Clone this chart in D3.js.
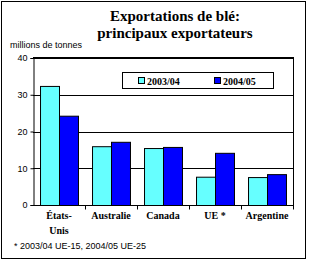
<!DOCTYPE html>
<meta charset="utf-8">
<style>
  body { margin: 0; background: #fff; }
  svg text { fill: #000; }
</style>
<body>
<script src="https://cdn.jsdelivr.net/npm/d3@7"></script>
<script>
  var categories = ["États-Unis", "Australie", "Canada", "UE *", "Argentine"]
  var series = ["2003/04", "2004/05"]
  var values0304 = [32.4, 16.0, 15.5, 7.7, 7.6]
  var values0405 = [24.3, 17.2, 15.8, 14.2, 8.4]
  var yTicks = [0, 10, 20, 30, 40]
  var colors = ["#66ffff", "#0000ff"]

  var SERIF = "'Liberation Serif', 'Times New Roman', serif"
  var SANS = "'Liberation Sans', Arial, sans-serif"

  var width = 309, height = 265
  var plot = { left: 33, right: 293, top: 58, bottom: 205 }

  var svg = d3.select("body").append("svg")
    .attr("width", width)
    .attr("height", height)

  // outer frame
  svg.append("rect")
    .attr("x", 1.5).attr("y", 1.5)
    .attr("width", 304).attr("height", 257)
    .attr("fill", "none").attr("stroke", "#000").attr("stroke-width", 1)

  // title
  var title = svg.append("text")
    .attr("font-family", SERIF).attr("font-weight", "bold")
    .attr("text-anchor", "middle")
    .attr("font-size", 15)
  title.append("tspan").attr("x", 175).attr("y", 21).text("Exportations de blé:")
  title.append("tspan").attr("x", 175).attr("y", 38).text("principaux exportateurs")

  svg.append("text")
    .attr("font-family", SANS)
    .attr("x", 10).attr("y", 48)
    .attr("font-size", 9)
    .text("millions de tonnes")

  var y = d3.scaleLinear().domain([0, 40]).range([plot.bottom, plot.top])
  var x0 = d3.scaleBand().domain(categories).range([plot.left, plot.right]).paddingInner(0.27).paddingOuter(0.135)
  var x1 = d3.scaleBand().domain(series).range([0, x0.bandwidth()])

  // gridlines
  svg.append("g").selectAll("line")
    .data(yTicks.slice(1, 4))
    .enter().append("line")
    .attr("x1", plot.left).attr("x2", plot.right)
    .attr("y1", function (d) { return Math.round(y(d)) + 0.5 })
    .attr("y2", function (d) { return Math.round(y(d)) + 0.5 })
    .attr("stroke", "#000")

  // plot frame top + right
  svg.append("line")
    .attr("x1", plot.left).attr("x2", plot.right + 1)
    .attr("y1", plot.top).attr("y2", plot.top)
    .attr("stroke", "#000").attr("stroke-width", 2)
  svg.append("line")
    .attr("x1", plot.right + 0.5).attr("x2", plot.right + 0.5)
    .attr("y1", plot.top).attr("y2", plot.bottom)
    .attr("stroke", "#000")

  // bars
  var rows = categories.map(function (c, i) {
    return { cat: c, vals: [values0304[i], values0405[i]] }
  })
  svg.append("g").selectAll("g")
    .data(rows)
    .enter().append("g")
    .attr("transform", function (d) { return "translate(" + x0(d.cat) + ",0)" })
    .selectAll("rect")
    .data(function (d) { return d.vals.map(function (v, j) { return { s: series[j], v: v, c: colors[j] } }) })
    .enter().append("rect")
    .attr("x", function (d) { return x1(d.s) + 0.5 })
    .attr("y", function (d) { return y(d.v) + 0.5 })
    .attr("width", x1.bandwidth())
    .attr("height", function (d) { return plot.bottom - y(d.v) })
    .attr("fill", function (d) { return d.c })
    .attr("stroke", "#000")

  // y axis
  var yAxis = svg.append("g")
    .attr("transform", "translate(" + (plot.left + 0.5) + ",0)")
    .call(d3.axisLeft(y).tickValues(yTicks).tickSize(3).tickPadding(3))
  yAxis.selectAll("text").attr("font-size", 9).attr("font-family", SANS)
  yAxis.select(".domain").attr("stroke", "#000")

  // x axis with ticks between groups
  var xAxis = svg.append("g")
    .attr("transform", "translate(0," + (plot.bottom + 0.5) + ")")
  xAxis.append("line")
    .attr("x1", plot.left).attr("x2", plot.right + 1)
    .attr("stroke", "#000")
  xAxis.selectAll("line.tick")
    .data(d3.range(1, categories.length + 1))
    .enter().append("line")
    .attr("class", "tick")
    .attr("x1", function (i) { return Math.round(plot.left + i * (plot.right - plot.left) / categories.length) + 0.5 })
    .attr("x2", function (i) { return Math.round(plot.left + i * (plot.right - plot.left) / categories.length) + 0.5 })
    .attr("y1", 0).attr("y2", 4)
    .attr("stroke", "#000")

  var labelLines = [["États-", "Unis"], ["Australie"], ["Canada"], ["UE *"], ["Argentine"]]
  xAxis.selectAll("text")
    .data(categories)
    .enter().append("text")
    .attr("font-family", SERIF).attr("font-weight", "bold")
    .attr("font-size", 10)
    .attr("text-anchor", "middle")
    .each(function (d, i) {
      var cx = x0(d) + x0.bandwidth() / 2
      labelLines[i].forEach(function (t, k) {
        d3.select(this).append("tspan").attr("x", cx).attr("y", 13 + k * 15).text(t)
      }, this)
    })

  // legend
  var lg = svg.append("g")
  lg.append("rect")
    .attr("x", 122.5).attr("y", 72.5)
    .attr("width", 151).attr("height", 16)
    .attr("fill", "#fff").attr("stroke", "#000")
  var legendX = [138, 214]
  series.forEach(function (s, i) {
    lg.append("rect")
      .attr("x", legendX[i] + 0.5).attr("y", 77.5)
      .attr("width", 6).attr("height", 6)
      .attr("fill", colors[i]).attr("stroke", "#000")
    lg.append("text")
      .attr("font-family", SERIF).attr("font-weight", "bold")
      .attr("font-size", 10)
      .attr("x", legendX[i] + 9).attr("y", 84.5)
      .text(s)
  })

  svg.append("text")
    .attr("font-family", SANS)
    .attr("x", 14).attr("y", 249)
    .attr("font-size", 9)
    .text("* 2003/04 UE-15, 2004/05 UE-25")
</script>
</body>
